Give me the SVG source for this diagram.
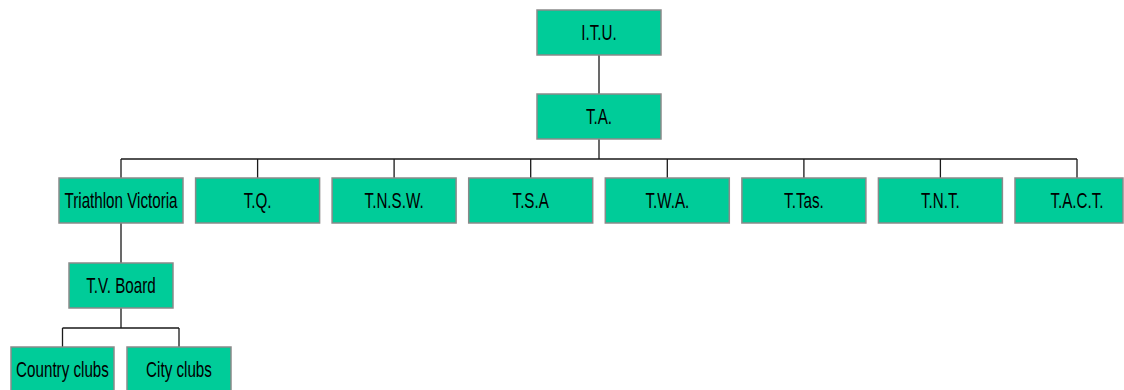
<svg xmlns="http://www.w3.org/2000/svg" width="1124" height="390" viewBox="0 0 1124 390">
<style>
.box{fill:#00CC99;stroke:#8a8a8a;stroke-width:1.5}
.lbl{font-family:"Liberation Sans",Arial,sans-serif;font-size:22px;fill:#000;text-anchor:middle}
.ln{stroke:#1a1a1a;stroke-width:1.3;fill:none}
</style>
<rect width="1124" height="390" fill="#fff"/>
<g id="connectors">
<path class="ln" d="M599 55V94M599 139V159M121 159H1077M121 159V178M257.6 159V178M394.1 159V178M530.7 159V178M667.3 159V178M803.9 159V178M940.4 159V178M1077 159V178M121 223V263M121 308V328M62.5 328H179M62.5 328V347M179 328V347"/>
</g>
<g id="itu"><rect class="box" x="537" y="10" width="124" height="45"/><text class="lbl" transform="translate(599 40) scale(0.69 1)">I.T.U.</text></g>
<g id="ta"><rect class="box" x="537" y="94" width="124" height="45"/><text class="lbl" transform="translate(599 124) scale(0.69 1)">T.A.</text></g>
<g id="tv"><rect class="box" x="59" y="178" width="124" height="45"/><text class="lbl" transform="translate(121 208) scale(0.69 1)">Triathlon Victoria</text></g>
<g id="tq"><rect class="box" x="195.6" y="178" width="124" height="45"/><text class="lbl" transform="translate(257.6 208) scale(0.69 1)">T.Q.</text></g>
<g id="tnsw"><rect class="box" x="332.1" y="178" width="124" height="45"/><text class="lbl" transform="translate(394.1 208) scale(0.69 1)">T.N.S.W.</text></g>
<g id="tsa"><rect class="box" x="468.7" y="178" width="124" height="45"/><text class="lbl" transform="translate(530.7 208) scale(0.69 1)">T.S.A</text></g>
<g id="twa"><rect class="box" x="605.3" y="178" width="124" height="45"/><text class="lbl" transform="translate(667.3 208) scale(0.69 1)">T.W.A.</text></g>
<g id="ttas"><rect class="box" x="741.9" y="178" width="124" height="45"/><text class="lbl" transform="translate(803.9 208) scale(0.69 1)">T.Tas.</text></g>
<g id="tnt"><rect class="box" x="878.4" y="178" width="124" height="45"/><text class="lbl" transform="translate(940.4 208) scale(0.69 1)">T.N.T.</text></g>
<g id="tact"><rect class="box" x="1015" y="178" width="108" height="45"/><text class="lbl" transform="translate(1077 208) scale(0.69 1)">T.A.C.T.</text></g>
<g id="tvboard"><rect class="box" x="69" y="263" width="104" height="45"/><text class="lbl" transform="translate(121 293) scale(0.69 1)">T.V. Board</text></g>
<g id="country"><rect class="box" x="11" y="347" width="103" height="45"/><text class="lbl" transform="translate(62.5 377) scale(0.69 1)">Country clubs</text></g>
<g id="city"><rect class="box" x="127" y="347" width="104" height="45"/><text class="lbl" transform="translate(179 377) scale(0.69 1)">City clubs</text></g>
</svg>
